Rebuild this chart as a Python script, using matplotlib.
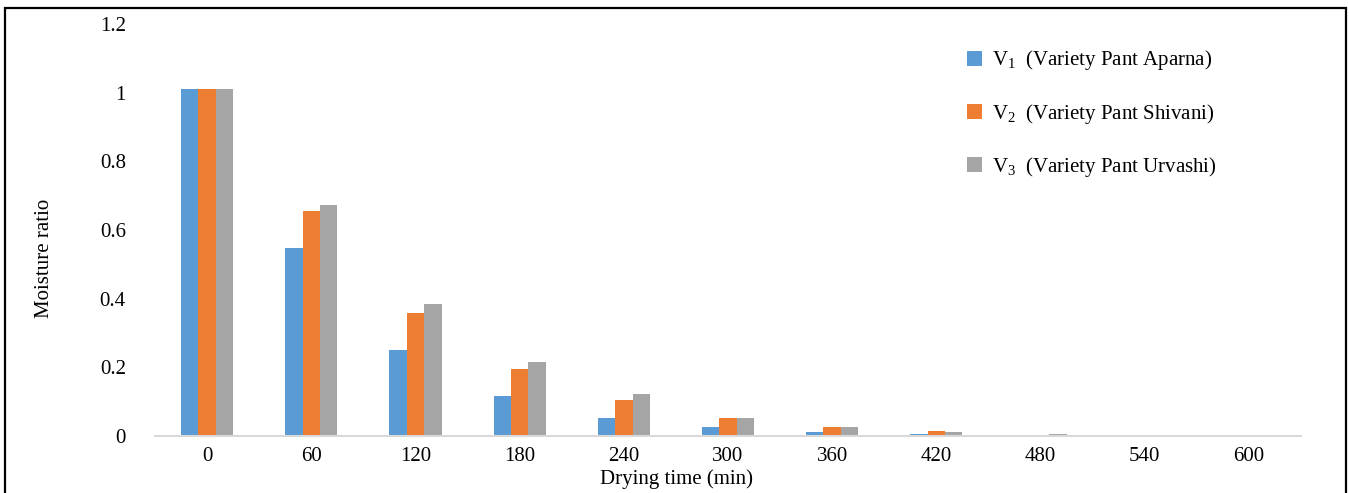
import matplotlib
matplotlib.use("Agg")
import matplotlib.pyplot as plt
import numpy as np
from matplotlib.patches import Rectangle

plt.rcParams['font.family'] = ['Liberation Serif', 'DejaVu Serif']
plt.rcParams['mathtext.fontset'] = 'custom'
plt.rcParams['mathtext.rm'] = 'Liberation Serif'
plt.rcParams['mathtext.it'] = 'Liberation Serif:italic'

categories = ['0', '60', '120', '180', '240', '300', '360', '420', '480', '540', '600']
v1 = [1.01, 0.548, 0.251, 0.117, 0.052, 0.025, 0.011, 0.005, 0.001, 0.0, 0.0]
v2 = [1.01, 0.655, 0.359, 0.195, 0.104, 0.052, 0.025, 0.016, 0.001, 0.0, 0.0]
v3 = [1.01, 0.672, 0.385, 0.215, 0.122, 0.052, 0.025, 0.011, 0.006, 0.0, 0.0]
labels = [r'V$_{1}$  (Variety Pant Aparna)',
          r'V$_{2}$  (Variety Pant Shivani)',
          r'V$_{3}$  (Variety Pant Urvashi)']
colors = ['#5B9BD5', '#ED7D31', '#A5A5A5']
yticks = [0, 0.2, 0.4, 0.6, 0.8, 1.0, 1.2]
yticklabels = ['0', '0.2', '0.4', '0.6', '0.8', '1', '1.2']

FS = 15

fig = plt.figure(figsize=(13.49, 4.93), dpi=100)
ax = fig.add_axes([155/1349, 1-436/493, (1301-155)/1349, (436-24)/493])

x = np.arange(len(categories))
w = 0.167
for i, (vals, c, lab) in enumerate(zip([v1, v2, v3], colors, labels)):
    ax.bar(x + (i-1)*w, vals, width=w, color=c, label=lab, linewidth=0)

ax.set_xlim(-0.5, len(categories)-0.5)
ax.set_ylim(0, 1.2)
ax.set_yticks(yticks)
ax.set_yticklabels(yticklabels)
ax.set_xticks(x)
ax.set_xticklabels(categories)
ax.tick_params(axis='both', length=0, labelsize=FS)
ax.tick_params(axis='y', pad=21)
ax.tick_params(axis='x', pad=8)
for s in ['top', 'right', 'left']:
    ax.spines[s].set_visible(False)
ax.spines['bottom'].set_color('#D9D9D9')
ax.spines['bottom'].set_linewidth(1.5)

ax.set_ylabel('Moisture ratio', fontsize=FS)
ax.yaxis.set_label_coords(-(155-54)/1146, 0.43)
ax.set_xlabel('Drying time (min)', fontsize=FS)
ax.xaxis.set_label_coords(0.455, -(469-436)/412)

leg = fig.legend(loc='upper left', bbox_to_anchor=(957/1349, 1-38/493),
                 frameon=False, fontsize=FS, handlelength=0.72, handleheight=0.72,
                 handletextpad=0.45, labelspacing=1.4, borderpad=0)

fig.patches.append(Rectangle((5/1349, -0.1), (1346-5)/1349, 1.1-8/493,
                             transform=fig.transFigure, fill=False,
                             edgecolor='black', linewidth=1.6))

fig.savefig('out.png', dpi=100)
